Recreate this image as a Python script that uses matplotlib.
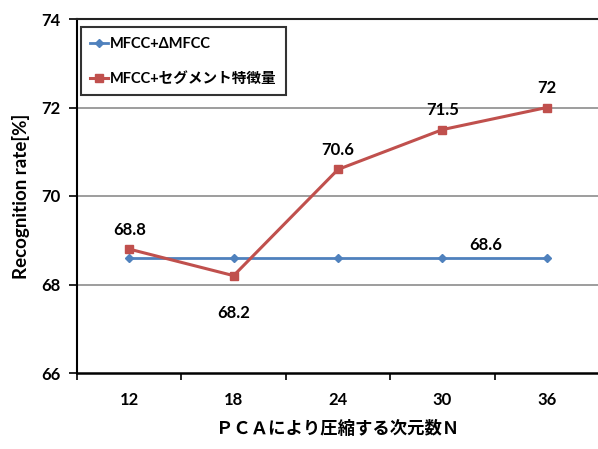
import numpy as np
import matplotlib
matplotlib.use('Agg')
import matplotlib.pyplot as plt
from matplotlib.ticker import FixedLocator

plt.rcParams['font.family'] = ['Lato', 'Noto Sans CJK JP', 'DejaVu Sans']

# data
dims = ['12', '18', '24', '30', '36']
delta_mfcc = [68.6, 68.6, 68.6, 68.6, 68.6]
segment = [68.8, 68.2, 70.6, 71.5, 72.0]
segment_labels = ['68.8', '68.2', '70.6', '71.5', '72']
delta_label = '68.6'

blue = '#4F81BD'
red = '#C0504D'

fig = plt.figure(figsize=(5.98, 4.49), dpi=100)
ax = fig.add_axes([77 / 598, 1 - 373 / 449, 522 / 598, 354 / 449])

x = np.arange(len(dims))
ax.plot(x, delta_mfcc, color=blue, lw=2, marker='D', ms=4.5, label='MFCC+ΔMFCC', zorder=3)
ax.plot(x, segment, color=red, lw=2.2, marker='s', ms=6, label='MFCC+セグメント特徴量', zorder=4)

ax.set_xlim(-0.5, len(dims) - 0.5)
ax.set_ylim(66, 74)
ax.set_yticks([66, 68, 70, 72, 74])
ax.set_xticks(x)
ax.set_xticklabels(dims)
ax.xaxis.set_minor_locator(FixedLocator(np.arange(-0.5, len(dims), 1.0)))
ax.tick_params(axis='x', which='major', length=0, pad=14)
ax.tick_params(axis='x', which='minor', length=5, width=1.2, direction='out')
ax.tick_params(axis='y', length=6, width=1.2, direction='out', pad=6)
for lab in ax.get_xticklabels() + ax.get_yticklabels():
    lab.set_fontsize(12)
    lab.set_fontweight('bold')

for yv in [68, 70, 72]:
    ax.axhline(yv, color='#8c8c8c', lw=1.2, zorder=1)

ax.spines['left'].set_linewidth(1.5)
ax.spines['bottom'].set_linewidth(1.8)
ax.spines['top'].set_linewidth(1.5)
ax.spines['top'].set_color('#222222')
ax.spines['right'].set_color('#d0d0d0')

# data labels
offsets = [14, -27, 14, 14, 14]
for i, (v, t) in enumerate(zip(segment, segment_labels)):
    ax.annotate(t, (x[i], v), xytext=(0, offsets[i]), textcoords='offset points',
                ha='center', va='center', fontsize=12, fontweight='bold')
ax.annotate(delta_label, (x[3], delta_mfcc[3]), xytext=(31, 9), textcoords='offset points',
            ha='center', va='center', fontsize=12, fontweight='bold')

ax.set_ylabel('Recognition rate[%]', fontsize=13.5, fontweight='bold', labelpad=8)
ax.set_xlabel('ＰＣＡにより圧縮する次元数Ｎ', fontsize=12.5, fontweight='bold', labelpad=8)

leg = ax.legend(loc='upper left', bbox_to_anchor=(0.007, 0.977), frameon=True, fancybox=False,
                edgecolor='black', handlelength=1.2, labelspacing=1.45,
                borderpad=0.65, handletextpad=0.15, borderaxespad=0,
                prop={'weight': 'bold', 'size': 10.5})
leg.get_frame().set_linewidth(1.5)

fig.savefig('out.png', dpi=100)
